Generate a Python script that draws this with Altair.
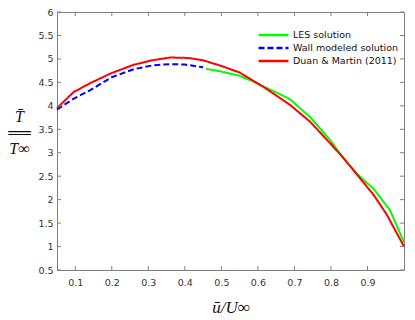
import altair as alt
import pandas as pd

# --- data ---
les_x = [0.458, 0.50, 0.55, 0.59, 0.624, 0.66, 0.688, 0.743, 0.798, 0.834, 0.878, 0.917, 0.962, 1.0]
les_y = [4.79, 4.73, 4.64, 4.51, 4.38, 4.25, 4.14, 3.76, 3.27, 2.88, 2.50, 2.23, 1.77, 1.09]

wall_x = [0.05, 0.095, 0.14, 0.20, 0.26, 0.31, 0.36, 0.40, 0.45]
wall_y = [3.92, 4.15, 4.33, 4.61, 4.78, 4.86, 4.89, 4.88, 4.82]

duan_x = [0.05, 0.095, 0.14, 0.20, 0.26, 0.31, 0.36, 0.41, 0.45, 0.50, 0.55, 0.62,
          0.688, 0.743, 0.798, 0.834, 0.877, 0.917, 0.953, 1.0]
duan_y = [3.95, 4.29, 4.48, 4.70, 4.875, 4.97, 5.03, 5.02, 4.97, 4.85, 4.71, 4.38,
          4.02, 3.66, 3.20, 2.89, 2.48, 2.10, 1.68, 1.0]

series_names = ["LES solution", "Wall modeled solution", "Duan & Martin (2011)"]
series_colors = ["#00ff00", "#0000ff", "#ff0000"]
series_dashes = [[1, 0], [6, 3], [1, 0]]

x_ticks = [0.1, 0.2, 0.3, 0.4, 0.5, 0.6, 0.7, 0.8, 0.9]
y_ticks = [0.5, 1, 1.5, 2, 2.5, 3, 3.5, 4, 4.5, 5, 5.5, 6]

W, H = 347, 258
AX = "#808080"
LBL = "#333333"

df = pd.concat([
    pd.DataFrame({"x": les_x, "y": les_y, "series": series_names[0]}),
    pd.DataFrame({"x": wall_x, "y": wall_y, "series": series_names[1]}),
    pd.DataFrame({"x": duan_x, "y": duan_y, "series": series_names[2]}),
], ignore_index=True)

xticks_df = pd.DataFrame({"x": x_ticks})
yticks_df = pd.DataFrame({"y": y_ticks})

xscale = alt.Scale(domain=[0.05, 1.0], nice=False, zero=False)
yscale = alt.Scale(domain=[0.5, 6], nice=False, zero=False)

xenc = alt.X("x:Q", scale=xscale, axis=alt.Axis(
    values=x_ticks, format=".1f", tickSize=0, labelPadding=7, grid=False,
    labelOverlap=False, labelFlush=False,
    domainColor=AX, labelColor=LBL, labelFont="DejaVu Sans", labelFontSize=9.5,
    title="ū/U∞", titleFont="Liberation Serif", titleFontStyle="italic",
    titleFontWeight="normal", titleFontSize=17, titleColor="#111111",
    titleY=37, titleBaseline="middle"))
yenc = alt.Y("y:Q", scale=yscale, axis=alt.Axis(
    values=y_ticks, format="~g", tickSize=0, labelPadding=4, grid=False,
    labelOverlap=False, labelFlush=False,
    domainColor=AX, labelColor=LBL, labelFont="DejaVu Sans", labelFontSize=9.5,
    title=["T̄", "══", "T∞"], titleAngle=0, titleX=-38, titleY=104,
    titleAlign="center", titleBaseline="middle", titleLineHeight=16,
    titleFont="Liberation Serif", titleFontStyle="italic", titleFontWeight="normal",
    titleFontSize=16, titleColor="#111111"))

cscale = alt.Scale(domain=series_names, range=series_colors)
dscale = alt.Scale(domain=series_names, range=series_dashes)

legend = alt.Legend(title=None, orient="none", legendX=200, legendY=17,
                    symbolType="stroke", symbolSize=900, symbolStrokeWidth=2.5,
                    labelFont="DejaVu Sans", labelFontSize=9.5, labelColor="#111111",
                    padding=0, rowPadding=1, clipHeight=12, labelOffset=3)

def series_layer(name):
    return alt.Chart(df).transform_filter(alt.datum.series == name).mark_line(strokeWidth=2).encode(
        x=xenc, y=yenc,
        color=alt.Color("series:N", scale=cscale, legend=legend),
        strokeDash=alt.StrokeDash("series:N", scale=dscale, legend=legend),
    )

tick_style = dict(color=AX, strokeWidth=1)
xt_bottom = alt.Chart(xticks_df).mark_rule(**tick_style).encode(
    x=xenc, y=alt.value(H), y2=alt.value(H - 4))
xt_top = alt.Chart(xticks_df).mark_rule(**tick_style).encode(
    x=xenc, y=alt.value(0), y2=alt.value(4))
yt_left = alt.Chart(yticks_df).mark_rule(**tick_style).encode(
    y=yenc, x=alt.value(0), x2=alt.value(4))
yt_right = alt.Chart(yticks_df).mark_rule(**tick_style).encode(
    y=yenc, x=alt.value(W), x2=alt.value(W - 4))

chart = alt.layer(
    series_layer(series_names[0]),
    series_layer(series_names[1]),
    series_layer(series_names[2]),
    xt_bottom, xt_top, yt_left, yt_right,
).properties(
    width=W, height=H,
    autosize=alt.AutoSizeParams(type="none"),
    padding={"left": 49, "top": 4, "right": 3, "bottom": 50},
).configure_view(stroke=AX, strokeWidth=1)

chart.save("out.html", embed_options={"renderer": "svg", "actions": False})
